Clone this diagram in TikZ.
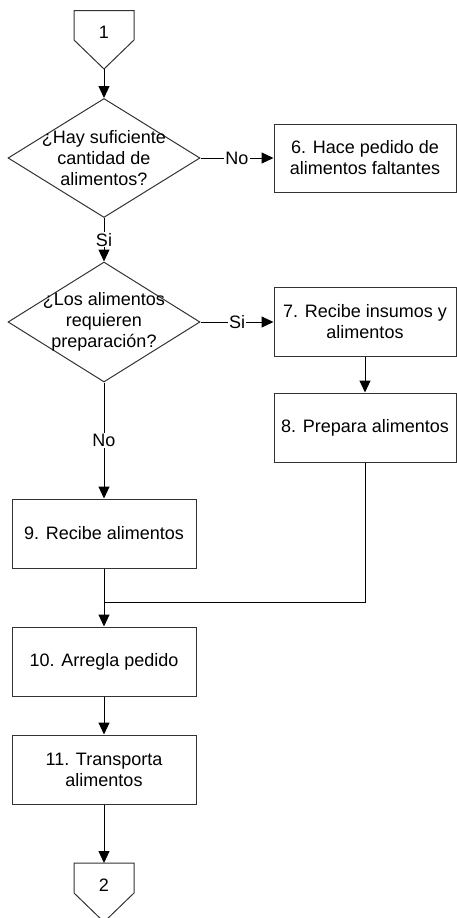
\documentclass[tikz,border=0pt]{standalone}
\usepackage{fontspec}
\setmainfont{Liberation Sans}
\usetikzlibrary{shapes.geometric,arrows.meta}
\begin{document}
\begin{tikzpicture}[x=1pt,y=-1pt,
  font=\fontsize{18}{21}\selectfont,
  line/.style={draw=black,line width=1pt},
  flow/.style={line,-{Triangle[length=12pt,width=11pt]}},
  proc/.style={draw=black!80,line width=1pt,rectangle,minimum height=69pt,
    inner sep=0pt,align=center},
  decision/.style={draw=black!80,line width=1pt,diamond,minimum width=192pt,
    minimum height=119pt,inner sep=0pt},
  offpage/.style={draw=black!80,line width=1pt,line join=miter},
  lbl/.style={fill=white,inner sep=1pt},
  txt/.style={align=center,inner sep=0pt}
]
\useasboundingbox (0,0) rectangle (457,918);

% off-page connector 1
\draw[offpage] (74,10.7) -- (134,10.7) -- (134,40) -- (104,69) -- (74,40) -- cycle;
\node (c1) at (104,32) {1};
\coordinate (c1tip) at (104,69);

% decision 1
\node[decision] (d1) at (104,158) {};
\node[txt] (t1) at (d1) {¿Hay suficiente\\cantidad de\\alimentos?};

% box 6
\node[proc,minimum width=182pt,minimum height=68pt] (b6) at (365,158) {6. Hace pedido de\\alimentos faltantes};

% decision 2
\node[decision,minimum height=120pt] (d2) at (104,322) {};
\node[txt] (t2) at (d2) {¿Los alimentos\\requieren\\preparación?};

% boxes 7 and 8
\node[proc,minimum width=182pt] (b7) at (365,322) {7. Recibe insumos y\\alimentos};
\node[proc,minimum width=182pt] (b8) at (365,427.5) {8. Prepara alimentos};

% boxes 9, 10, 11
\node[proc,minimum width=184pt] (b9) at (104,533.5) {9. Recibe alimentos};
\node[proc,minimum width=184pt] (b10) at (104,661.5) {10. Arregla pedido};
\node[proc,minimum width=184pt] (b11) at (104,769.5) {11. Transporta\\alimentos};

% off-page connector 2
\draw[offpage] (74,863) -- (134,863) -- (134,893) -- (104,922) -- (74,893) -- cycle;
\node (c2) at (104,885) {2};
\coordinate (c2top) at (104,863);

% merge point
\coordinate (m) at (104,602);

% connectors
\draw[flow] (c1tip) -- (d1.north);
\draw[flow] (d1.east) -- node[lbl] {No} (b6.west);
\draw[flow] (d1.south) -- node[lbl] {Si} (d2.north);
\draw[flow] (d2.east) -- node[lbl] {Si} (b7.west);
\draw[flow] (b7.south) -- (b8.north);
\draw[flow] (d2.south) -- node[lbl] {No} (b9.north);
\draw[line] (b8.south) |- (m);
\draw[flow] (b9.south) -- (b10.north);
\draw[flow] (b10.south) -- (b11.north);
\draw[flow] (b11.south) -- (c2top);
\end{tikzpicture}
\end{document}
